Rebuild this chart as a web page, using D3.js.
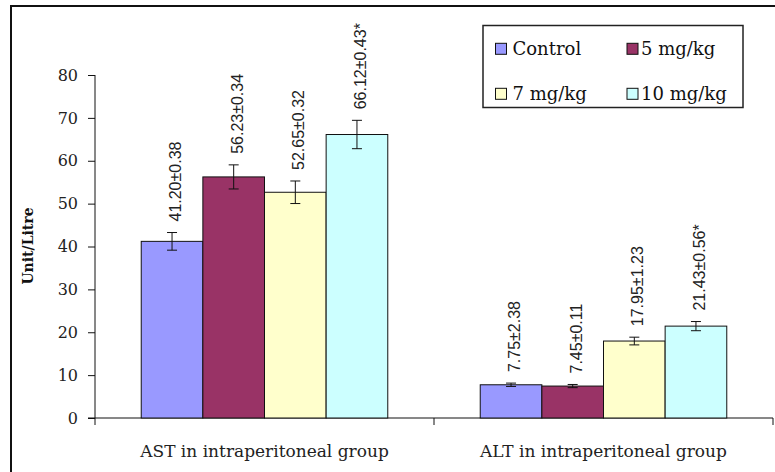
<!DOCTYPE html>
<html>
<head>
<meta charset="utf-8">
<script src="https://cdn.jsdelivr.net/npm/d3@7"></script>
<style>
  html, body { margin: 0; background: white; overflow: hidden; }
  svg { display: block; }
</style>
</head>
<body>
<div id="chart"></div>
<script>
// chart values
var categories = ["AST in intraperitoneal group", "ALT in intraperitoneal group"];
var series = ["Control", "5 mg/kg", "7 mg/kg", "10 mg/kg"];
var colors = ["#9999FF", "#993366", "#FFFFCC", "#CCFFFF"];
var astValues = [41.20, 56.23, 52.65, 66.12];
var altValues = [7.75, 7.45, 17.95, 21.43];
// error bar half lengths
var astErrors = [2.06, 2.81, 2.63, 3.31];
var altErrors = [0.39, 0.37, 0.90, 1.07];
var astLabels = ["41.20±0.38", "56.23±0.34", "52.65±0.32", "66.12±0.43*"];
var altLabels = ["7.75±2.38", "7.45±0.11", "17.95±1.23", "21.43±0.56*"];
var yTicks = [0, 10, 20, 30, 40, 50, 60, 70, 80];

var width = 775, height = 472;
var serif = "'DejaVu Serif', serif";
var sans = "'Liberation Sans', Arial, sans-serif";

var svg = d3.select("#chart")
    .append("svg")
    .attr("width", width)
    .attr("height", height)
    .style("overflow", "hidden");

// outer frame (only top and left edges are inside the picture)
svg.append("path")
    .attr("d", "M11," + height + "V6H" + width)
    .attr("fill", "none")
    .attr("stroke", "#111")
    .attr("stroke-width", 2);

var x0 = d3.scaleBand()
    .domain(categories)
    .range([95, 773])
    .padding(0);

var x1 = d3.scaleBand()
    .domain(series)
    .range([0, x0.bandwidth()])
    .paddingInner(0)
    .paddingOuter(0.75);

var y = d3.scaleLinear()
    .domain([0, 80])
    .range([418, 75]);

// y axis
var yAxis = svg.append("g")
    .attr("transform", "translate(95,0)")
    .call(d3.axisLeft(y).tickValues(yTicks).tickSize(7).tickPadding(10));
yAxis.selectAll("text")
    .style("font-family", serif)
    .style("font-size", "16px")
    .attr("fill", "#222");
yAxis.selectAll("line, path").attr("stroke", "#111");
yAxis.select(".domain").attr("d", "M0," + y(80) + "V" + y(0));

// x axis
var xAxis = svg.append("g")
    .attr("transform", "translate(0,418)");
xAxis.append("line")
    .attr("x1", 88).attr("x2", 773)
    .attr("y1", 0).attr("y2", 0)
    .attr("stroke", "#111");
xAxis.selectAll(".xtick")
    .data([95, 434, 773])
    .enter()
    .append("line")
    .attr("x1", function(d) { return d; })
    .attr("x2", function(d) { return d; })
    .attr("y1", 0).attr("y2", 7)
    .attr("stroke", "#111");
xAxis.selectAll(".xlabel")
    .data(categories)
    .enter()
    .append("text")
    .attr("x", function(d) { return x0(d) + x0.bandwidth() / 2; })
    .attr("y", 39)
    .attr("text-anchor", "middle")
    .style("font-family", serif)
    .style("font-size", "17px")
    .attr("fill", "#222")
    .text(function(d) { return d; });

// y axis title
svg.append("text")
    .attr("transform", "translate(33,246) rotate(-90)")
    .attr("text-anchor", "middle")
    .style("font-family", serif)
    .style("font-size", "14px")
    .style("font-weight", "bold")
    .attr("fill", "#111")
    .text("Unit/Litre");

var groups = [
    { cat: categories[0], values: astValues, errors: astErrors, labels: astLabels },
    { cat: categories[1], values: altValues, errors: altErrors, labels: altLabels }
];

groups.forEach(function(grp) {
    var data = series.map(function(s, i) {
        return { s: s, v: grp.values[i], e: grp.errors[i], label: grp.labels[i], c: colors[i] };
    });
    var g = svg.append("g")
        .attr("transform", "translate(" + x0(grp.cat) + ",0)");

    // bars
    g.selectAll("rect")
        .data(data)
        .enter()
        .append("rect")
        .attr("x", function(d) { return x1(d.s); })
        .attr("y", function(d) { return y(d.v); })
        .attr("width", x1.bandwidth())
        .attr("height", function(d) { return y(0) - y(d.v); })
        .attr("fill", function(d) { return d.c; })
        .attr("stroke", "#111")
        .attr("stroke-width", 1);

    // error bars
    var eb = g.selectAll(".err")
        .data(data)
        .enter()
        .append("g")
        .attr("transform", function(d) { return "translate(" + (x1(d.s) + x1.bandwidth() / 2) + ",0)"; });
    eb.append("line")
        .attr("y1", function(d) { return y(d.v + d.e); })
        .attr("y2", function(d) { return y(d.v - d.e); })
        .attr("stroke", "#111");
    eb.append("line")
        .attr("x1", -5).attr("x2", 5)
        .attr("y1", function(d) { return y(d.v + d.e); })
        .attr("y2", function(d) { return y(d.v + d.e); })
        .attr("stroke", "#111");
    eb.append("line")
        .attr("x1", -5).attr("x2", 5)
        .attr("y1", function(d) { return y(d.v - d.e); })
        .attr("y2", function(d) { return y(d.v - d.e); })
        .attr("stroke", "#111");

    // value labels
    eb.append("text")
        .attr("transform", function(d) { return "translate(9," + (y(d.v + d.e) - 11) + ") rotate(-90)"; })
        .style("font-family", sans)
        .style("font-size", "16px")
        .attr("fill", "#222")
        .text(function(d) { return d.label; });
});

// legend
var legend = svg.append("g");
legend.append("rect")
    .attr("x", 483).attr("y", 25.5)
    .attr("width", 260).attr("height", 82)
    .attr("fill", "white")
    .attr("stroke", "#222")
    .attr("stroke-width", 1.5);

var legendPos = [[495.5, 48.8], [627, 48.8], [495.5, 93.8], [627, 93.8]];
series.forEach(function(s, i) {
    var item = legend.append("g")
        .attr("transform", "translate(" + legendPos[i][0] + "," + legendPos[i][1] + ")");
    item.append("rect")
        .attr("x", 0).attr("y", -5.5)
        .attr("width", 11).attr("height", 11)
        .attr("fill", colors[i])
        .attr("stroke", "#111");
    item.append("text")
        .attr("x", i % 2 == 0 ? 17 : 14)
        .attr("y", 6)
        .style("font-family", serif)
        .style("font-size", "18px")
        .attr("fill", "#111")
        .text(s);
});
</script>
</body>
</html>
